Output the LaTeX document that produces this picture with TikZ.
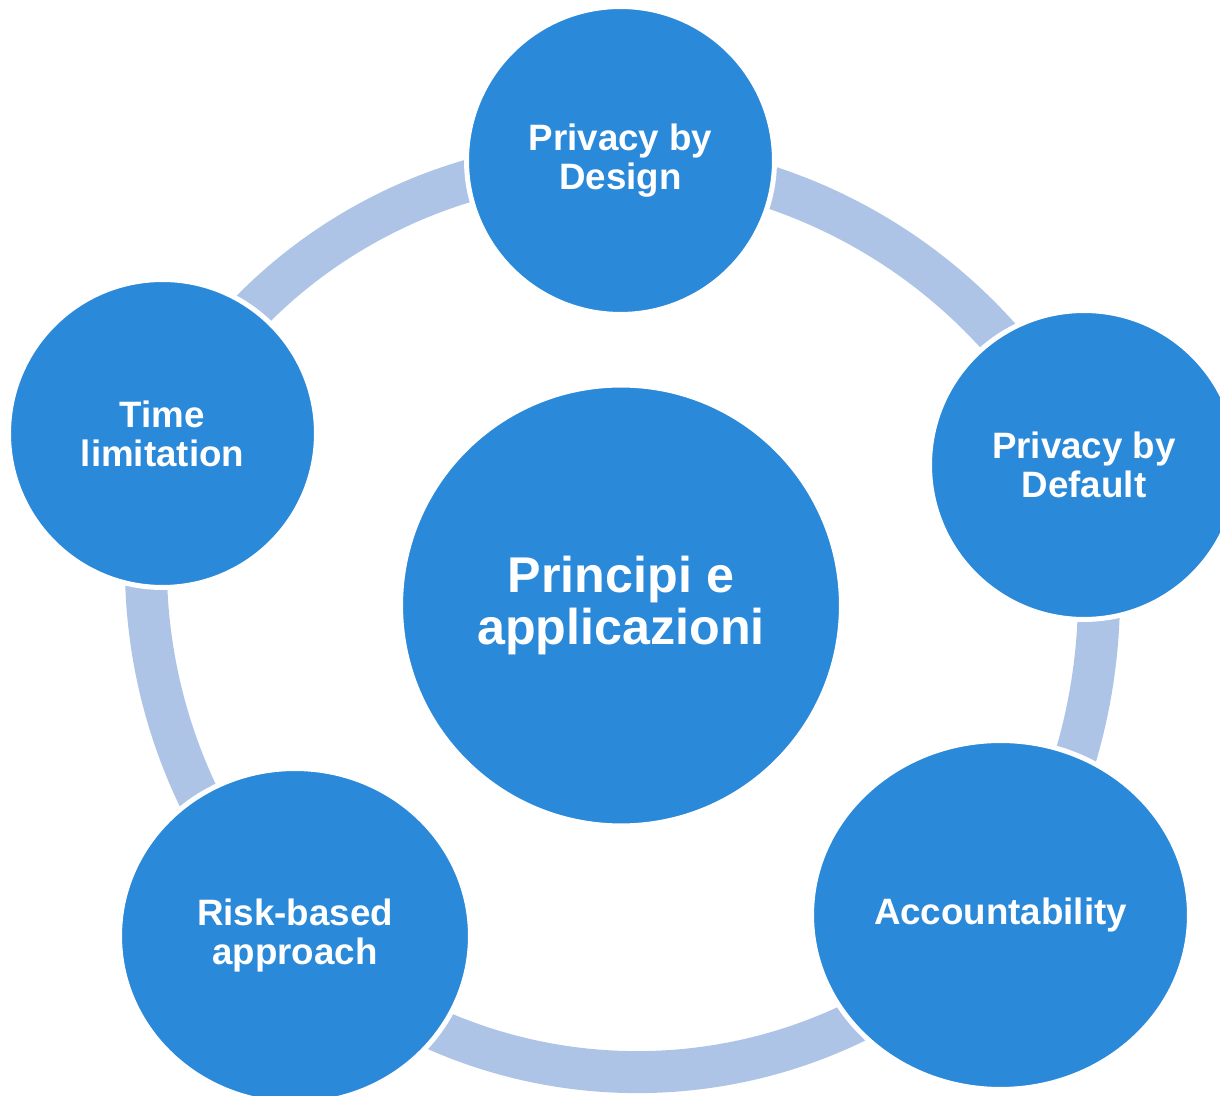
\documentclass[tikz,border=0pt]{standalone}
\usepackage{fontspec}
\setmainfont{Liberation Sans}
\usetikzlibrary{shapes.geometric, backgrounds}

\tikzstyle{cycle-node}=[circle, fill={node-blue}, draw=white, line width=0.1cm, inner sep=0pt,
  text=white, align=center, font=\bfseries\fontsize{20.9}{22.2}\selectfont]
\tikzstyle{cycle-oval}=[cycle-node, ellipse]
\tikzstyle{center-node}=[cycle-node, font=\bfseries\fontsize{28.6}{29.8}\selectfont]
\tikzstyle{cycle-ring}=[draw={ring-blue}, line width=0.84cm]
\definecolor{node-blue}{HTML}{2A89D8}
\definecolor{ring-blue}{HTML}{ADC4E7}

\begin{document}
\begin{tikzpicture}[x=0.02cm, y=0.02cm]
  \useasboundingbox (0,0) rectangle (1220,1095);

  % outer bubbles
  \node (design) at (620.5, 934.5)
        [cycle-node, minimum size=6.16cm] {Privacy by\\Design};
  \node (default) at (1084, 630)
        [cycle-node, minimum size=6.18cm] {Privacy by\\Default};
  \node (account) at (1000.5, 180)
        [cycle-oval, minimum width=7.56cm, minimum height=6.98cm] {Accountability};
  \node (risk) at (295, 159)
        [cycle-oval, minimum width=7.02cm, minimum height=6.7cm] {Risk-based\\approach};
  \node (time) at (162.5, 661.5)
        [cycle-node, minimum size=6.16cm] {Time\\limitation};

  % middle
  \node (principi) at (621, 489.5)
        [center-node, minimum size=8.82cm] {Principi e\\applicazioni};

  % ring behind the bubbles
  \begin{scope}[on background layer]
    \draw[cycle-ring] (time.center) to[bend left=32, looseness=0.92] (design.center);
    \draw[cycle-ring] (design.center) to[bend left=31.4, looseness=0.92] (default.center);
    \draw[cycle-ring] (default.center) to[bend left=23.7, looseness=0.89] (account.center);
    \draw[cycle-ring] (account.center) to[bend left=45, looseness=1] (risk.center);
    \draw[cycle-ring] (risk.center) to[bend left=29.1, looseness=0.91] (time.center);
  \end{scope}
\end{tikzpicture}
\end{document}
